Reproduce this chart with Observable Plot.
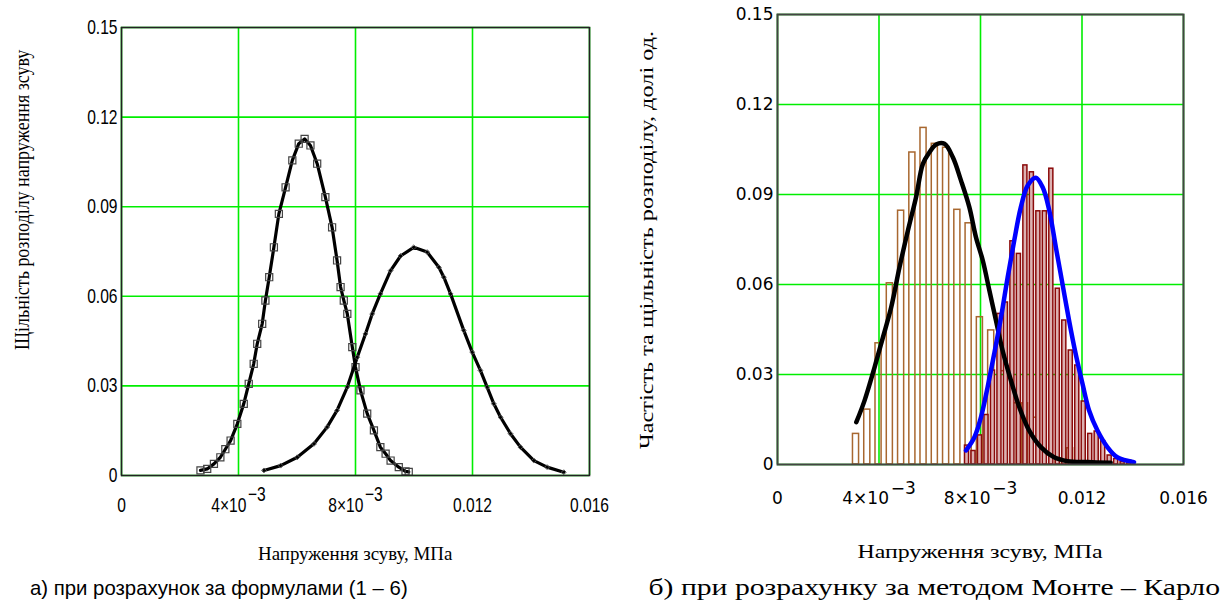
<!DOCTYPE html>
<html><head><meta charset="utf-8">
<script src="https://cdn.jsdelivr.net/npm/d3@7"></script>
<script src="https://cdn.jsdelivr.net/npm/@observablehq/plot@0.6"></script>
<style>
body{margin:0;background:#fff;}
#wrap{position:relative;width:1224px;height:602px;overflow:hidden;background:#fff;}
.panel{position:absolute;top:0;}
.lbl{position:absolute;left:0;top:0;white-space:nowrap;line-height:1;transform-origin:0 0;color:#000;}
</style></head><body>
<div id="wrap">
  <div id="left" class="panel" style="left:0px"></div>
  <div id="right" class="panel" style="left:620px"></div>
</div>
<script>
// ---------- data ----------
const xTickVals = [0, 0.004, 0.008, 0.012, 0.016];
const xTickBase = ["0", "4×10", "8×10", "0.012", "0.016"];
const xTickExp  = ["", "−3", "−3", "", ""];
const yTickVals = [0, 0.03, 0.06, 0.09, 0.12, 0.15];
const yTickLabels = ["0", "0.03", "0.06", "0.09", "0.12", "0.15"];

// (a) formula curves
const sqX = [0.00270,0.00293,0.00316,0.00338,0.00355,0.00373,0.00396,0.00418,0.00435,0.00452,0.00464,0.00481,0.00492,0.00505,0.00521,0.00538,0.00561,0.00584,0.00606,0.00626,0.00646,0.00669,0.00697,0.00720,0.00737,0.00749,0.00760,0.00772,0.00789,0.00800,0.00817,0.00840,0.00863,0.00885,0.00903,0.00920,0.00948,0.00971,0.00982];
const sqY = [0.0017,0.0022,0.0039,0.0061,0.0088,0.0117,0.0173,0.0240,0.0307,0.0374,0.0441,0.0508,0.0586,0.0664,0.0764,0.0876,0.0965,0.1055,0.1111,0.1127,0.1105,0.1044,0.0932,0.0831,0.0720,0.0631,0.0586,0.0541,0.0430,0.0363,0.0285,0.0207,0.0151,0.0095,0.0073,0.0050,0.0028,0.0014,0.0012];
const dmX = [0.00487,0.00544,0.00601,0.00658,0.00703,0.00737,0.00772,0.00806,0.00834,0.00857,0.00885,0.00920,0.00954,0.00999,0.01045,0.01085,0.01102,0.01125,0.01170,0.01199,0.01227,0.01250,0.01273,0.01296,0.01330,0.01364,0.01410,0.01455,0.01512];
const dmY = [0.0017,0.0033,0.0061,0.0106,0.0162,0.0218,0.0296,0.0396,0.0474,0.0541,0.0608,0.0686,0.0735,0.0764,0.0748,0.0697,0.0664,0.0608,0.0486,0.0413,0.0352,0.0296,0.0240,0.0195,0.0140,0.0095,0.0050,0.0028,0.0011];

// (b) Monte Carlo histograms and densities
const brownX = [0.003094,0.003538,0.003982,0.004427,0.004871,0.005315,0.005755,0.006200,0.006644,0.007088,0.007532,0.007976,0.008421,0.008865,0.009309,0.009753,0.010197,0.010642,0.011086,0.011530];
const brownH = [0.0102,0.0183,0.0404,0.0604,0.0846,0.1040,0.1122,0.1069,0.1056,0.0849,0.0804,0.0491,0.0447,0.0311,0.0204,0.0204,0.0156,0.0040,0.0020,0.0054];
const redX = [0.007469,0.007725,0.007980,0.008236,0.008491,0.008747,0.009002,0.009258,0.009513,0.009769,0.010024,0.010280,0.010535,0.010791,0.011046,0.011302,0.011557,0.011813,0.012068,0.012324,0.012579,0.012835,0.013090,0.013346,0.013601,0.013857];
const redH = [0.0063,0.0045,0.0097,0.0165,0.0313,0.0502,0.0540,0.0744,0.0702,0.0997,0.0974,0.0844,0.0844,0.0986,0.0586,0.0480,0.0380,0.0330,0.0210,0.0102,0.0110,0.0078,0.0030,0.0018,0.0008,0.0013];
const blackX = [0.003106,0.00343,0.003825,0.004155,0.00448,0.00481,0.00514,0.00546,0.00573,0.00599,0.00625,0.00658,0.00691,0.00723,0.00756,0.00782,0.00809,0.00835,0.00861,0.00887,0.00920,0.00953,0.00992,0.01038,0.01090,0.01143,0.01221,0.01313];
const blackY = [0.0141,0.0213,0.0324,0.0424,0.0524,0.0658,0.0780,0.0891,0.1002,0.1041,0.1067,0.1069,0.1024,0.0947,0.0858,0.0758,0.0680,0.0580,0.0480,0.0380,0.0280,0.0191,0.0113,0.0058,0.0024,0.0011,0.0008,0.0006];
const blueX = [0.00743,0.00776,0.00802,0.00828,0.00854,0.00881,0.00907,0.00933,0.00959,0.00986,0.01018,0.01045,0.01071,0.01097,0.01123,0.01149,0.01175,0.01202,0.01228,0.01261,0.01300,0.01339,0.01405];
const blueY = [0.0047,0.0091,0.0158,0.0258,0.0369,0.0491,0.0624,0.0747,0.0858,0.0930,0.0956,0.0924,0.0847,0.0724,0.0602,0.0480,0.0369,0.0269,0.0180,0.0113,0.0058,0.0024,0.0008];

// texts
const yTitleA = "Щільність розподілу напруження зсуву";
const yTitleB = "Частість та щільність розподілу, долі од.";
const xTitle = "Напруження зсуву, МПа";
const captionA = "а) при розрахунок за формулами (1 – 6)";
const captionB = "б) при розрахунку за методом Монте – Карло";

// ---------- build ----------
const zip = (xs, ys) => xs.map((v, i) => ({x: v, y: ys[i]}));
const sq = zip(sqX, sqY), dm = zip(dmX, dmY);
const brown = zip(brownX, brownH), red = zip(redX, redH);
const blk = zip(blackX, blackY), blu = zip(blueX, blueY);

const GREEN = "#00ee00";
const fmtX = d => xTickBase[xTickVals.indexOf(d)];
const fmtY = d => yTickLabels[yTickVals.indexOf(d)];

function common(fontX, sizeX, padX, fontY, sizeY, padY) {
  return [
    Plot.gridX(xTickVals, {stroke: GREEN, strokeOpacity: 1, strokeWidth: 1.6}),
    Plot.gridY(yTickVals, {stroke: GREEN, strokeOpacity: 1, strokeWidth: 1.6}),
    Plot.axisY(yTickVals, {tickSize: 0, tickPadding: padY, tickFormat: fmtY, fontSize: sizeY, fontFamily: fontY, label: null}),
    Plot.axisX(xTickVals, {tickSize: 0, tickPadding: padX, tickFormat: fmtX, fontSize: sizeX, fontFamily: fontX, label: null})
  ];
}

const sansF = "'Liberation Sans', Arial, sans-serif";

const plotA = Plot.plot({
  width: 620, height: 530,
  marginLeft: 121, marginRight: 31, marginTop: 27, marginBottom: 55,
  x: {domain: [0, 0.016]}, y: {domain: [0, 0.15]},
  style: {background: "transparent", overflow: "visible", color: "#000"},
  marks: [
    ...common(sansF, 20, 22, sansF, 20, 4),
    Plot.line(sq, {x: "x", y: "y", stroke: "#000", strokeWidth: 3.2, curve: "linear"}),
    Plot.dot(sq, {x: "x", y: "y", symbol: "square", r: 4, stroke: "#444", fill: "none", strokeWidth: 1.2}),
    Plot.line(dm, {x: "x", y: "y", stroke: "#000", strokeWidth: 3.2, curve: "linear"}),
    Plot.dot(dm, {x: "x", y: "y", symbol: "diamond2", r: 2.2, stroke: "#555", fill: "none", strokeWidth: 1}),
    Plot.frame({stroke: "#222", strokeWidth: 1.6})
  ]
});
document.getElementById("left").appendChild(plotA);

const brownW = 0.00024, redW = 0.00016;
const plotB = Plot.plot({
  width: 604, height: 530,
  marginLeft: 157, marginRight: 41, marginTop: 14, marginBottom: 66,
  x: {domain: [0, 0.016]}, y: {domain: [0, 0.15]},
  style: {background: "transparent", overflow: "visible", color: "#000"},
  marks: [
    ...common("'DejaVu Sans', sans-serif", 17, 27, "'DejaVu Sans', sans-serif", 17, 4),
    Plot.rectY(brown, {x1: d => d.x - brownW / 2, x2: d => d.x + brownW / 2, y: "y", fill: "none", stroke: "#a8672f", strokeWidth: 1.5}),
    Plot.rectY(red, {x1: d => d.x - redW / 2, x2: d => d.x + redW / 2, y: "y", fill: "#dcb2b2", stroke: "#8b0a0a", strokeWidth: 1.5}),
    Plot.line(blk, {x: "x", y: "y", stroke: "#000", strokeWidth: 4.5, curve: "catmull-rom"}),
    Plot.line(blu, {x: "x", y: "y", stroke: "#0000ff", strokeWidth: 4.5, curve: "catmull-rom"}),
    Plot.frame({stroke: "#444", strokeWidth: 2})
  ]
});
document.getElementById("right").appendChild(plotB);

// superscript exponents on x tick labels
for (const svg of [plotA, plotB]) {
  d3.select(svg).selectAll('g[aria-label="x-axis tick label"] text').each(function () {
    const i = xTickBase.indexOf(this.textContent);
    if (i >= 0 && xTickExp[i]) {
      d3.select(this).append("tspan").attr("dy", "-0.55em").attr("dx", "0.1em").text(xTickExp[i]);
    }
  });
}
// condensed look for panel (a) tick labels
d3.select(plotA).selectAll('g[aria-label="x-axis tick label"] text, g[aria-label="y-axis tick label"] text').each(function () {
  const t = this.getAttribute("transform") || "";
  this.setAttribute("transform", t + " scale(0.78,1)");
});

// titles and captions
const wrap = document.getElementById("wrap");
function label(text, cx, cy, font, size, width, rotate) {
  const d = document.createElement("div");
  d.className = "lbl";
  d.textContent = text;
  d.style.fontFamily = font;
  d.style.fontSize = size + "px";
  wrap.appendChild(d);
  const w = d.offsetWidth, h = d.offsetHeight;
  const s = width ? width / w : 1;
  d.style.transform = `translate(${cx}px, ${cy}px)` + (rotate ? " rotate(-90deg)" : "") + ` scale(${s}, 1) translate(${-w / 2}px, ${-h / 2}px)`;
}
const serif = "'Liberation Serif', 'Times New Roman', serif";
label(yTitleA, 22, 200, serif, 20, 300, true);
label(yTitleB, 647, 240, serif, 18, 418, true);
label(xTitle, 355, 553, serif, 19, 194, false);
label(xTitle, 980, 552, serif, 18, 245, false);
label(captionA, 219, 587, sansF, 21, 378, false);
label(captionB, 934, 587, serif, 24, 571, false);
</script>
</body></html>
